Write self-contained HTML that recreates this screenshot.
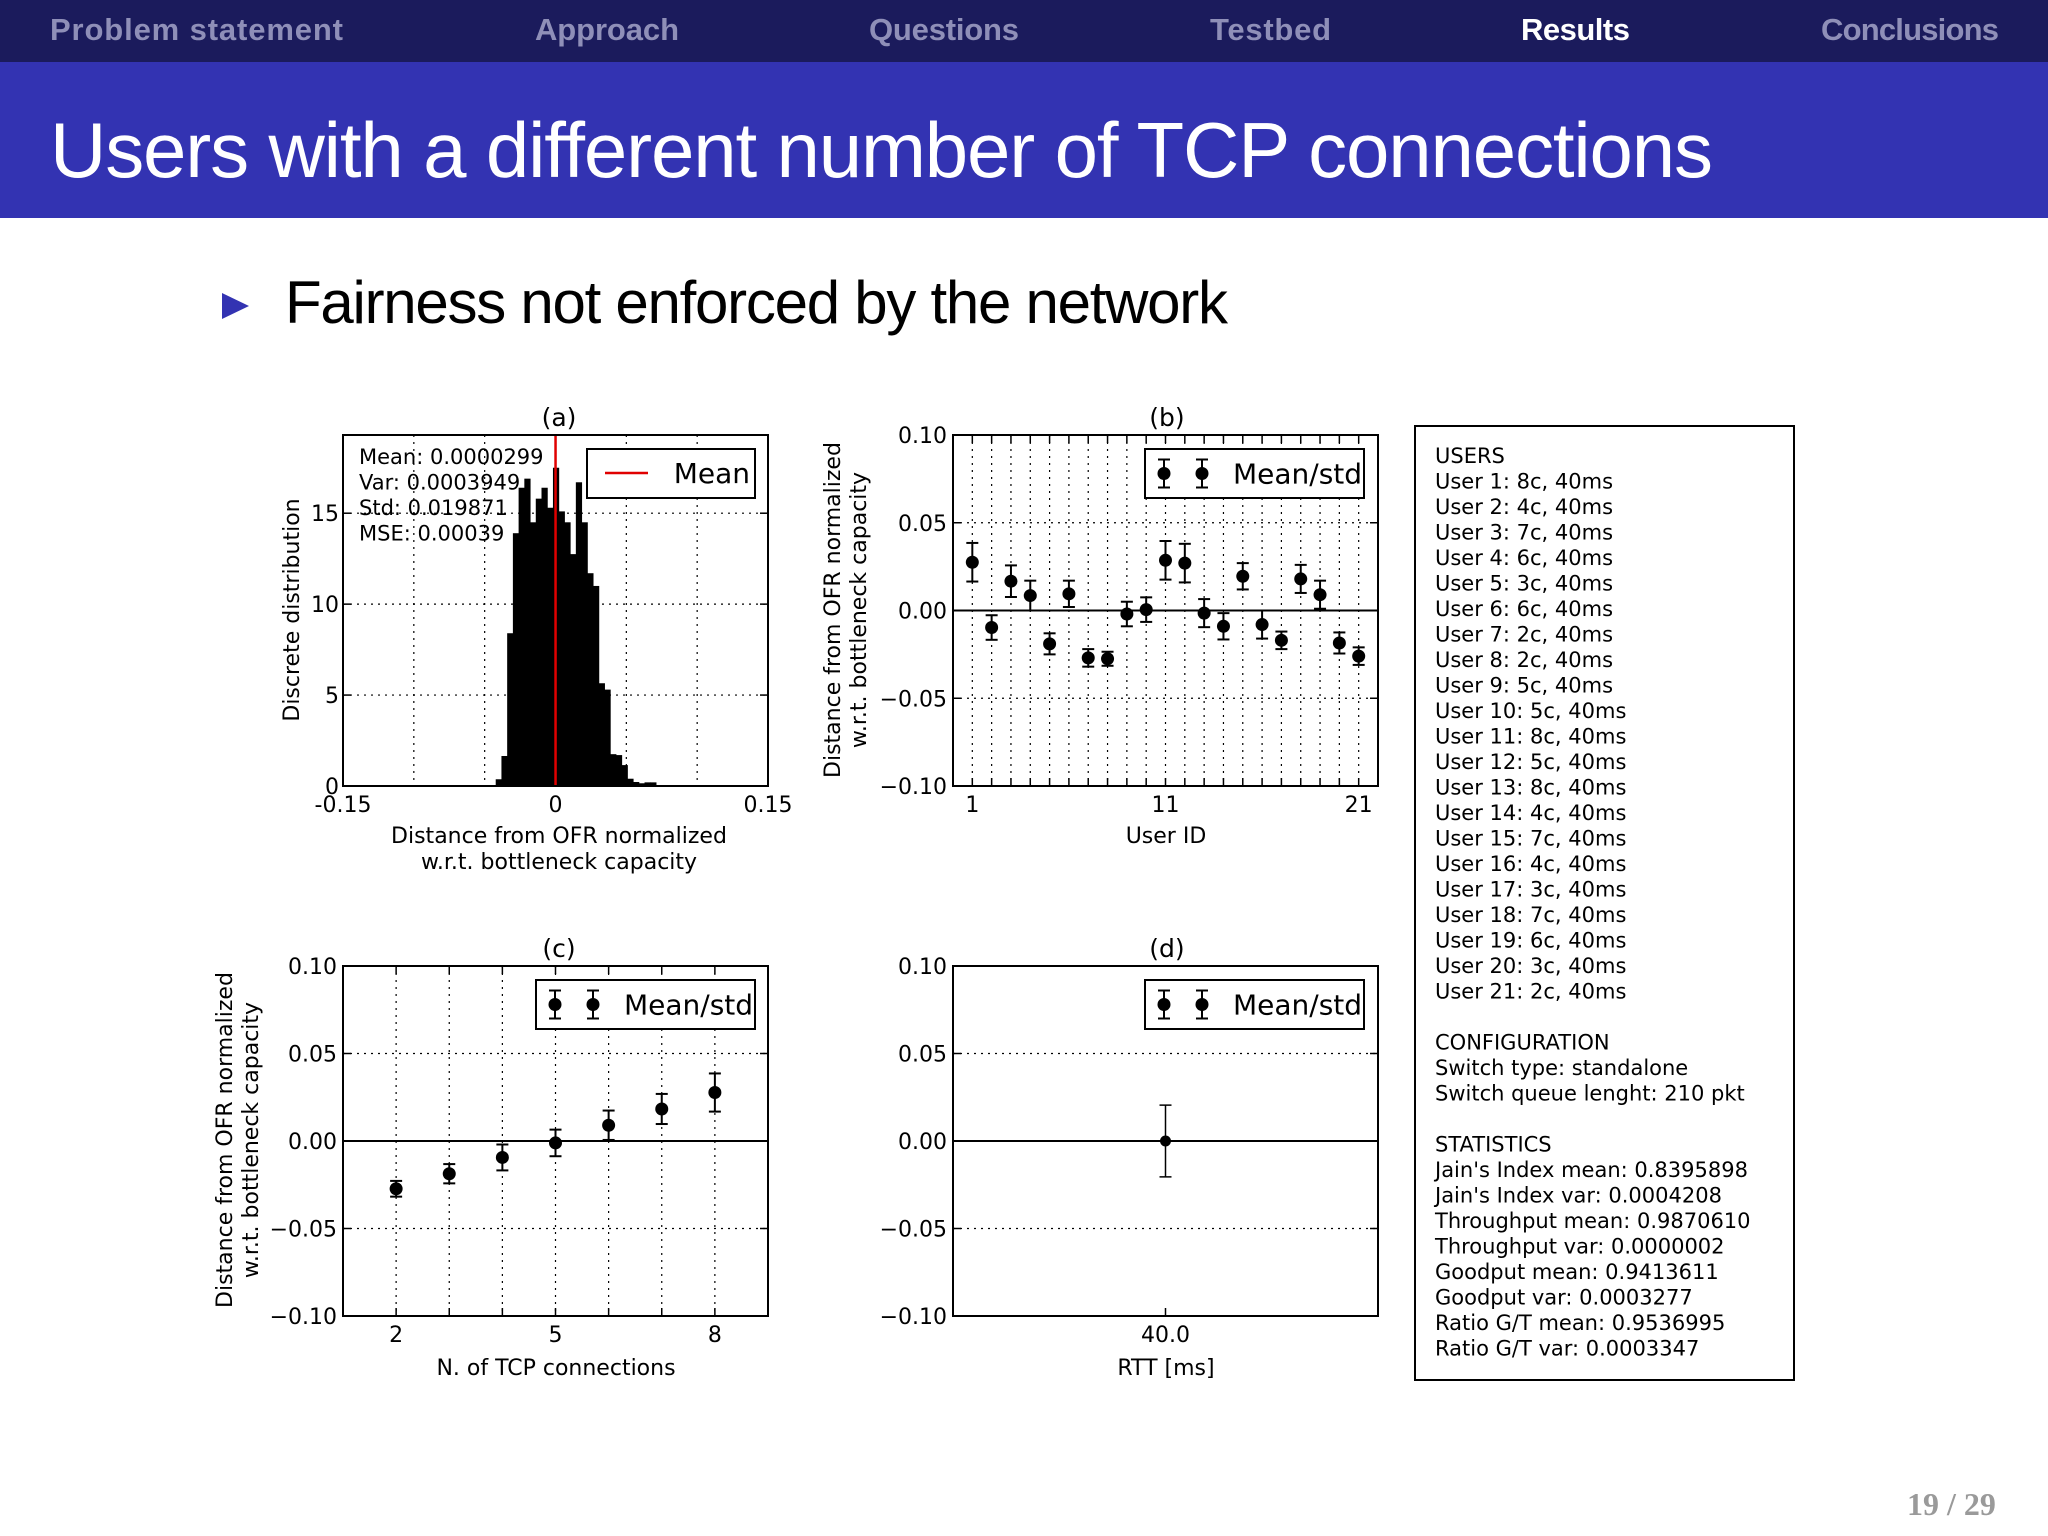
<!DOCTYPE html>
<html><head><meta charset="utf-8"><style>
html,body{margin:0;padding:0;background:#fff;}
svg{display:block;}
</style></head><body>
<svg id="slide" xmlns="http://www.w3.org/2000/svg" width="2048" height="1536" viewBox="0 0 2048 1536">
<rect x="0" y="0" width="2048" height="1536" fill="#fff"/>
<g font-family="Liberation Sans, sans-serif" font-weight="bold" font-size="31">
<rect x="0" y="0" width="2048" height="62" fill="#1b1b5c"/>
<text x="50" y="40" fill="#8f8fb8" textLength="293">Problem statement</text>
<text x="535" y="40" fill="#8f8fb8" textLength="144">Approach</text>
<text x="869" y="40" fill="#8f8fb8" textLength="150">Questions</text>
<text x="1210" y="40" fill="#8f8fb8" textLength="121">Testbed</text>
<text x="1521" y="40" fill="#ffffff" textLength="109">Results</text>
<text x="1821" y="40" fill="#8f8fb8" textLength="178">Conclusions</text>
</g>
<g>
<rect x="0" y="62" width="2048" height="156" fill="#3333b2"/>
<text x="50" y="177" fill="#fff" font-family="Liberation Sans, sans-serif" font-size="78" textLength="1663">Users with a different number of TCP connections</text>
</g>
<polygon points="222,293 249,306 222,319" fill="#3333b2"/>
<text x="285" y="323" fill="#000" font-family="Liberation Sans, sans-serif" font-size="60" textLength="943">Fairness not enforced by the network</text>
<g id="charts" font-family="DejaVu Sans, Liberation Sans, sans-serif"></g>
<g id="info" font-family="DejaVu Sans, Liberation Sans, sans-serif" font-size="21">
<rect x="1415" y="426" width="379" height="954" fill="#fff" stroke="#000" stroke-width="2"/>
</g>
<text x="1907" y="1515" fill="#9a9a9a" font-family="Liberation Serif, serif" font-weight="bold" font-size="32">19 / 29</text>
</svg>
<script>
// ---- data ----
const histCounts=[0.37,1.65,8.4,13.9,16.4,16.9,14.5,15.8,16.4,15.3,17.5,15.1,14.5,12.75,16.7,14.5,11.7,11.0,5.65,5.3,1.75,1.7,1.15,0.4,0.22,0.15,0.2,0.2];
const histStart=-0.0422;
const histBinWidth=0.00404;
const histMean=0.0000299;
const statLines=["Mean: 0.0000299","Var: 0.0003949","Std: 0.019871","MSE: 0.00039"];
const userIds=[1,2,3,4,5,6,7,8,9,10,11,12,13,14,15,16,17,18,19,20,21];
const userMeans=[0.0275,-0.0097,0.0167,0.0085,-0.019,0.0095,-0.027,-0.0275,-0.002,0.0005,0.0286,0.027,-0.0015,-0.009,0.0195,-0.008,-0.017,0.018,0.009,-0.0185,-0.026];
const userStds=[0.011,0.007,0.009,0.0085,0.006,0.0075,0.005,0.004,0.007,0.007,0.011,0.011,0.008,0.0075,0.0075,0.008,0.005,0.008,0.008,0.006,0.005];
const connCats=[2,3,4,5,6,7,8];
const connMeans=[-0.0273,-0.0187,-0.0094,-0.0011,0.009,0.0183,0.0277];
const connStds=[0.0045,0.0055,0.0074,0.0076,0.0084,0.0086,0.0109];
const rttCats=[40.0];
const rttMeans=[0.0];
const rttStds=[0.0205];
const yTicks=[0.10,0.05,0.00,-0.05,-0.10];
const yTickLabels=["0.10","0.05","0.00","\u22120.05","\u22120.10"];
const histYTicks=[0,5,10,15];
const histXTicks=[-0.15,0,0.15];
const histXTickLabels=["-0.15","0","0.15"];
const infoLines=["USERS","User 1: 8c, 40ms","User 2: 4c, 40ms","User 3: 7c, 40ms","User 4: 6c, 40ms","User 5: 3c, 40ms","User 6: 6c, 40ms","User 7: 2c, 40ms","User 8: 2c, 40ms","User 9: 5c, 40ms","User 10: 5c, 40ms","User 11: 8c, 40ms","User 12: 5c, 40ms","User 13: 8c, 40ms","User 14: 4c, 40ms","User 15: 7c, 40ms","User 16: 4c, 40ms","User 17: 3c, 40ms","User 18: 7c, 40ms","User 19: 6c, 40ms","User 20: 3c, 40ms","User 21: 2c, 40ms","","CONFIGURATION","Switch type: standalone","Switch queue lenght: 210 pkt","","STATISTICS","Jain's Index mean: 0.8395898","Jain's Index var: 0.0004208","Throughput mean: 0.9870610","Throughput var: 0.0000002","Goodput mean: 0.9413611","Goodput var: 0.0003277","Ratio G/T mean: 0.9536995","Ratio G/T var: 0.0003347"];

const NS="http://www.w3.org/2000/svg";
const root=document.getElementById('charts');
function mk(tag,attrs,parent,txt){const e=document.createElementNS(NS,tag);for(const k in attrs)e.setAttribute(k,attrs[k]);if(txt!==undefined)e.textContent=txt;(parent||root).appendChild(e);return e;}
function lin(d0,d1,r0,r1){return v=>r0+(v-d0)/(d1-d0)*(r1-r0);}

function panel(name,x0,y0,x1,y1){const g=mk('g',{});return g;}
function frame(g,x0,y0,x1,y1){const r=mk('rect',{x:x0,y:y0,width:x1-x0,height:y1-y0,fill:'none',stroke:'#000','stroke-width':2},g);}
function vgrid(g,x,y0,y1){const l=mk('line',{x1:x,x2:x,y1:y0,y2:y1,stroke:'#000','stroke-width':1.2,'stroke-dasharray':'2,5'},g);}
function hgrid(g,y,x0,x1){const l=mk('line',{x1:x0,x2:x1,y1:y,y2:y,stroke:'#000','stroke-width':1.2,'stroke-dasharray':'2,5'},g);}
function tickMarks(g,x,y0,y1,vertical){ if(vertical){mk('line',{x1:x,x2:x,y1:y0,y2:y0+8,stroke:'#000','stroke-width':1.5},g);mk('line',{x1:x,x2:x,y1:y1,y2:y1-8,stroke:'#000','stroke-width':1.5},g);} }
function errPoint(g,cx,cy,ylo,yhi,nm){const pg=mk('g',{},g);
 mk('line',{x1:cx,x2:cx,y1:ylo,y2:yhi,stroke:'#000','stroke-width':2},pg);
 mk('line',{x1:cx-6,x2:cx+6,y1:ylo,y2:ylo,stroke:'#000','stroke-width':2},pg);
 mk('line',{x1:cx-6,x2:cx+6,y1:yhi,y2:yhi,stroke:'#000','stroke-width':2},pg);
 mk('circle',{cx:cx,cy:cy,r:6.5,fill:'#000'},pg);}
function legendErr(g,lx,ly,lw,lh){const lg=mk('g',{},g);
 mk('rect',{x:lx,y:ly,width:lw,height:lh,fill:'#fff',stroke:'#000','stroke-width':2},lg);
 const cy=ly+lh/2;[lx+19,lx+57].forEach(cx=>{mk('line',{x1:cx,x2:cx,y1:cy-14,y2:cy+14,stroke:'#000','stroke-width':2},lg);mk('line',{x1:cx-6,x2:cx+6,y1:cy-14,y2:cy-14,stroke:'#000','stroke-width':2},lg);mk('line',{x1:cx-6,x2:cx+6,y1:cy+14,y2:cy+14,stroke:'#000','stroke-width':2},lg);mk('circle',{cx:cx,cy:cy,r:6.5,fill:'#000'},lg);});
 const t=mk('text',{x:lx+88,y:cy+10,'font-size':28},lg,'Mean/std');}
function yAxisErr(g,x0,x1,sy){yTicks.forEach((v,i)=>{const y=sy(v);if(v!==0&&Math.abs(v)<0.1)hgrid(g,y,x0,x1);
 mk('line',{x1:x0,x2:x0+8,y1:y,y2:y,stroke:'#000','stroke-width':1.5},g);mk('line',{x1:x1,x2:x1-8,y1:y,y2:y,stroke:'#000','stroke-width':1.5},g);
 const t=mk('text',{x:x0-6,y:y+8,'font-size':22,'text-anchor':'end'},g,yTickLabels[i]);});
 const z=mk('line',{x1:x0,x2:x1,y1:sy(0),y2:sy(0),stroke:'#000','stroke-width':2},g);}
function txt(g,x,y,s,size,name,anchor,rot){const a={x:x,y:y,'font-size':size,'text-anchor':anchor||'middle'};if(rot)a.transform='rotate(-90 '+x+' '+y+')';const t=mk('text',a,g,s);return t;}

// ---- panel a: histogram ----
(function(){const X0=343,X1=768,Y0=435,Y1=786;const g=panel('histogram-panel-a');
 const sx=lin(-0.15,0.15,X0,X1),sy=lin(0,19.3,Y1,Y0);
 [-0.1,-0.05,0,0.05,0.1].forEach(v=>vgrid(g,sx(v),Y0,Y1));
 histYTicks.forEach(v=>{if(v>0)hgrid(g,sy(v),X0,X1);});
 histCounts.forEach((c,i)=>{const a=histStart+i*histBinWidth;const r=mk('rect',{x:sx(a),y:sy(c),width:sx(a+histBinWidth)-sx(a)+0.5,height:sy(0)-sy(c),fill:'#000'},g);});
 const ml=mk('line',{x1:sx(histMean),x2:sx(histMean),y1:Y0,y2:Y1,stroke:'#e00000','stroke-width':2.5},g);
 statLines.forEach((s,i)=>txt(g,359,464+i*25.5,s,21,'stat-text','start'));
 frame(g,X0,Y0,X1,Y1);
 histYTicks.forEach(v=>{const y=sy(v);mk('line',{x1:X0,x2:X0+8,y1:y,y2:y,stroke:'#000','stroke-width':1.5},g);mk('line',{x1:X1,x2:X1-8,y1:y,y2:y,stroke:'#000','stroke-width':1.5},g);txt(g,X0-4,y+8,String(v),22,'y-tick-label','end');});
 [-0.1,-0.05,0,0.05,0.1].forEach(v=>tickMarks(g,sx(v),Y1-0,Y0,false));
 histXTicks.forEach((v,i)=>txt(g,sx(v),Y1+26,histXTickLabels[i],22,'x-tick-label'));
 const lg=mk('g',{},g);
 mk('rect',{x:587,y:449,width:168,height:49,fill:'#fff',stroke:'#000','stroke-width':2},lg);
 mk('line',{x1:605,x2:648,y1:473,y2:473,stroke:'#e00000','stroke-width':2.5},lg);
 txt(lg,750,483,'Mean',28,'legend-label','end');
 txt(g,559,426,'(a)',25,'panel-title');
 txt(g,299,610,'Discrete distribution',22,'y-axis-title','middle',true);
 txt(g,559,843,'Distance from OFR normalized',22,'x-axis-title');
 txt(g,559,869,'w.r.t. bottleneck capacity',22,'x-axis-title');
})();

// ---- panel b: per-user ----
(function(){const X0=953,X1=1378,Y0=435,Y1=786;const g=panel('per-user-panel-b');
 const sx=lin(0,22,X0,X1),sy=lin(-0.1,0.1,Y1,Y0);
 userIds.forEach(u=>{vgrid(g,sx(u),Y0,Y1);tickMarks(g,sx(u),Y1,Y0,false);mk('line',{x1:sx(u),x2:sx(u),y1:Y1,y2:Y1-8,stroke:'#000','stroke-width':1.5},g);mk('line',{x1:sx(u),x2:sx(u),y1:Y0,y2:Y0+8,stroke:'#000','stroke-width':1.5},g);});
 yAxisErr(g,X0,X1,sy);
 frame(g,X0,Y0,X1,Y1);
 userIds.forEach((u,i)=>errPoint(g,sx(u),sy(userMeans[i]),sy(userMeans[i]-userStds[i]),sy(userMeans[i]+userStds[i]),'point-user-'+u));
 [1,11,21].forEach(u=>txt(g,sx(u),Y1+26,String(u),22,'x-tick-label'));
 legendErr(g,1145,449,219,49);
 txt(g,1167,426,'(b)',25,'panel-title');
 txt(g,840,610,'Distance from OFR normalized',22,'y-axis-title','middle',true);
 txt(g,866,610,'w.r.t. bottleneck capacity',22,'y-axis-title','middle',true);
 txt(g,1166,843,'User ID',22,'x-axis-title');
})();

// ---- panel c: by connections ----
(function(){const X0=343,X1=768,Y0=966,Y1=1316;const g=panel('connections-panel-c');
 const sx=lin(1,9,X0,X1),sy=lin(-0.1,0.1,Y1,Y0);
 connCats.forEach(c=>{vgrid(g,sx(c),Y0,Y1);mk('line',{x1:sx(c),x2:sx(c),y1:Y1,y2:Y1-8,stroke:'#000','stroke-width':1.5},g);mk('line',{x1:sx(c),x2:sx(c),y1:Y0,y2:Y0+8,stroke:'#000','stroke-width':1.5},g);});
 yAxisErr(g,X0,X1,sy);
 frame(g,X0,Y0,X1,Y1);
 connCats.forEach((c,i)=>errPoint(g,sx(c),sy(connMeans[i]),sy(connMeans[i]-connStds[i]),sy(connMeans[i]+connStds[i]),'point-conn-'+c));
 [2,5,8].forEach(c=>txt(g,sx(c),Y1+26,String(c),22,'x-tick-label'));
 legendErr(g,536,980,219,49);
 txt(g,559,957,'(c)',25,'panel-title');
 txt(g,232,1140,'Distance from OFR normalized',22,'y-axis-title','middle',true);
 txt(g,258,1140,'w.r.t. bottleneck capacity',22,'y-axis-title','middle',true);
 txt(g,556,1375,'N. of TCP connections',22,'x-axis-title');
})();

// ---- panel d: by RTT ----
(function(){const X0=953,X1=1378,Y0=966,Y1=1316;const g=panel('rtt-panel-d');
 const sx=lin(39.5,40.5,X0,X1),sy=lin(-0.1,0.1,Y1,Y0);
 yAxisErr(g,X0,X1,sy);
 frame(g,X0,Y0,X1,Y1);
 rttCats.forEach((c,i)=>{const cx=sx(c);const pg=mk('g',{},g);
  mk('line',{x1:cx,x2:cx,y1:sy(rttMeans[i]-rttStds[i]),y2:sy(rttMeans[i]+rttStds[i]),stroke:'#000','stroke-width':1.5},pg);
  mk('line',{x1:cx-6,x2:cx+6,y1:sy(rttMeans[i]-rttStds[i]),y2:sy(rttMeans[i]-rttStds[i]),stroke:'#000','stroke-width':1.5},pg);
  mk('line',{x1:cx-6,x2:cx+6,y1:sy(rttMeans[i]+rttStds[i]),y2:sy(rttMeans[i]+rttStds[i]),stroke:'#000','stroke-width':1.5},pg);
  mk('circle',{cx:cx,cy:sy(rttMeans[i]),r:5.5,fill:'#000'},pg);
  mk('line',{x1:cx,x2:cx,y1:Y1,y2:Y1-8,stroke:'#000','stroke-width':1.5},g);
  txt(g,cx,Y1+26,c.toFixed(1),22,'x-tick-label');});
 legendErr(g,1145,980,219,49);
 txt(g,1167,957,'(d)',25,'panel-title');
 txt(g,1166,1375,'RTT [ms]',22,'x-axis-title');
})();

// ---- info box ----
(function(){const g=document.getElementById('info');
 infoLines.forEach((s,i)=>{if(!s)return;const t=document.createElementNS(NS,'text');t.setAttribute('x',1435);t.setAttribute('y',463+i*25.5);t.textContent=s;
 
 
 g.appendChild(t);});})();
</script>
</body></html>
